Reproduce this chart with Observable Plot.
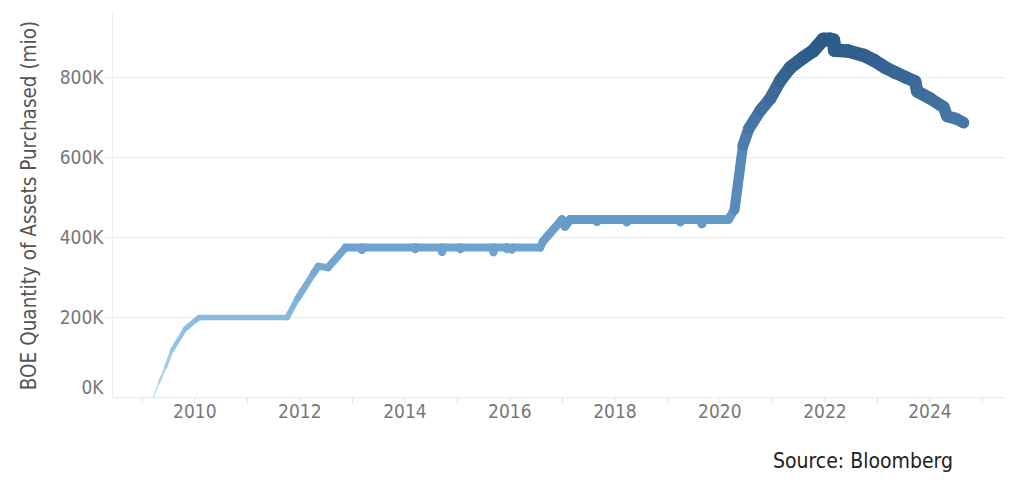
<!DOCTYPE html>
<html><head><meta charset="utf-8">
<script src="https://cdn.jsdelivr.net/npm/d3@7"></script>
<script src="https://cdn.jsdelivr.net/npm/@observablehq/plot@0.6"></script>
<style>
body{margin:0;background:#fff;}
#wrap{position:relative;width:1022px;height:497px;overflow:hidden;}
#src{position:absolute;left:773px;top:449px;font-family:"DejaVu Sans Condensed",sans-serif;font-size:21px;color:#222;white-space:nowrap;}
</style></head><body>
<div id="wrap"><div id="chart"></div><div id="src">Source: Bloomberg</div></div>
<script>
// Dates and BOE quantity of assets purchased (mio)
const dates = [
  "2009-03-18","2009-04-26","2009-06-10","2009-07-25","2009-10-27","2010-01-05","2010-02-01",
  "2011-10-05","2011-12-15","2012-04-05","2012-05-08","2012-07-15","2012-11-15",
  "2013-02-28","2013-03-07","2013-03-14",
  "2014-03-07","2014-03-14","2014-03-21",
  "2014-09-09","2014-09-16","2014-09-23",
  "2015-01-15","2015-01-22","2015-01-29",
  "2015-09-02","2015-09-09","2015-09-16",
  "2015-12-06","2015-12-13","2015-12-20","2016-01-15","2016-01-22",
  "2016-07-30","2016-08-18","2016-12-29","2017-01-19","2017-02-24",
  "2017-08-22","2017-08-29","2017-09-05",
  "2018-03-18","2018-03-25","2018-04-01",
  "2019-03-25","2019-04-01","2019-04-08",
  "2019-08-22","2019-08-29","2019-09-05",
  "2020-03-01","2020-04-12","2020-06-10","2020-07-20","2020-10-08","2020-12-16",
  "2021-02-24","2021-05-05","2021-08-04","2021-10-12","2021-12-20",
  "2022-02-06","2022-03-01","2022-03-10","2022-06-13","2022-10-01","2022-12-13",
  "2023-02-24","2023-05-08","2023-07-20","2023-09-20","2023-10-05",
  "2024-01-01","2024-04-06","2024-04-30","2024-07-01","2024-08-22"
];
const values = [
  0, 37000, 75000, 117000, 172000, 193000, 200000,
  200000, 247000, 310000, 328000, 325000, 375000,
  375000, 369000, 375000,
  375000, 371000, 375000,
  375000, 364000, 375000,
  375000, 371000, 375000,
  375000, 363000, 375000,
  375000, 371000, 375000, 370000, 375000,
  375000, 390000, 445000, 428000, 445000,
  445000, 440000, 445000,
  445000, 439000, 445000,
  445000, 439000, 445000,
  445000, 434000, 445000,
  445000, 470000, 630000, 672000, 717000, 747000,
  792000, 825000, 850000, 867000, 895000,
  895000, 893000, 868000, 866000, 855000, 842000,
  825000, 812000, 800000, 790000, 765000,
  748000, 726000, 703000, 697000, 687000
];
const yTicks = [200000, 400000, 600000, 800000];
const yZeroTick = [0];
const yearTicks = [2009,2010,2011,2012,2013,2014,2015,2016,2017,2018,2019,2020,2021,2022,2023,2024,2025];
const labelYears = [2010,2012,2014,2016,2018,2020,2022,2024];

const segs = d3.range(dates.length - 1).map(i => ({
  x1: new Date(dates[i]), y1: values[i],
  x2: new Date(dates[i + 1]), y2: values[i + 1],
  v: (values[i] + values[i + 1]) / 2
}));
const yr = y => new Date(Date.UTC(y, 0, 1));
const font = '"DejaVu Sans Condensed",sans-serif';
const kfmt = d => d / 1000 + "K";

const chart = Plot.plot({
  width: 1022, height: 440,
  marginLeft: 112, marginRight: 17, marginTop: 13, marginBottom: 43,
  style: {fontFamily: font, fontSize: "19px", background: "#fff"},
  x: {type: "utc", domain: [new Date("2008-06-07"), new Date("2025-06-10")]},
  y: {domain: [0, 960000]},
  color: {type: "linear", domain: [0, 200000, 450000, 900000],
          range: ["#b7ddf4", "#86badf", "#6599c8", "#2b5886"]},
  marks: [
    Plot.gridY(yTicks.concat(yZeroTick), {stroke: "#ebebeb", strokeOpacity: 1}),
    Plot.frame({anchor: "left", stroke: "#eeeeee"}),
    Plot.axisY(yTicks, {tickSize: 7, stroke: "#ebebeb", tickPadding: 2, tickFormat: kfmt, fill: "#777", fontSize: 19,
      label: "BOE Quantity of Assets Purchased (mio)", labelAnchor: "center", labelArrow: "none", labelOffset: 91}),
    Plot.axisY(yZeroTick, {tickSize: 0, dy: -10, tickPadding: 9, tickFormat: kfmt, fill: "#777", fontSize: 19, label: null}),
    Plot.axisX(yearTicks.map(yr), {tickSize: 6, stroke: "#e2e2e2", tickFormat: () => "", label: null}),
    Plot.axisX(labelYears.map(yr), {tickSize: 0, tickPadding: 7, tickFormat: "%Y", fill: "#777", fontSize: 19, label: null}),
    Plot.link(segs, {
      x1: "x1", y1: "y1", x2: "x2", y2: "y2",
      stroke: "v",
      strokeWidth: d => 0.19 * Math.pow(d.v / 1000, 0.63),
      strokeLinecap: "round"
    })
  ]
});
// y-axis title styling
chart.querySelectorAll('g[aria-label="y-axis label"]').forEach(g => {
  g.setAttribute("fill", "#555");
  g.setAttribute("font-size", "20.5px");
});
document.getElementById("chart").appendChild(chart);
</script>
</body></html>
